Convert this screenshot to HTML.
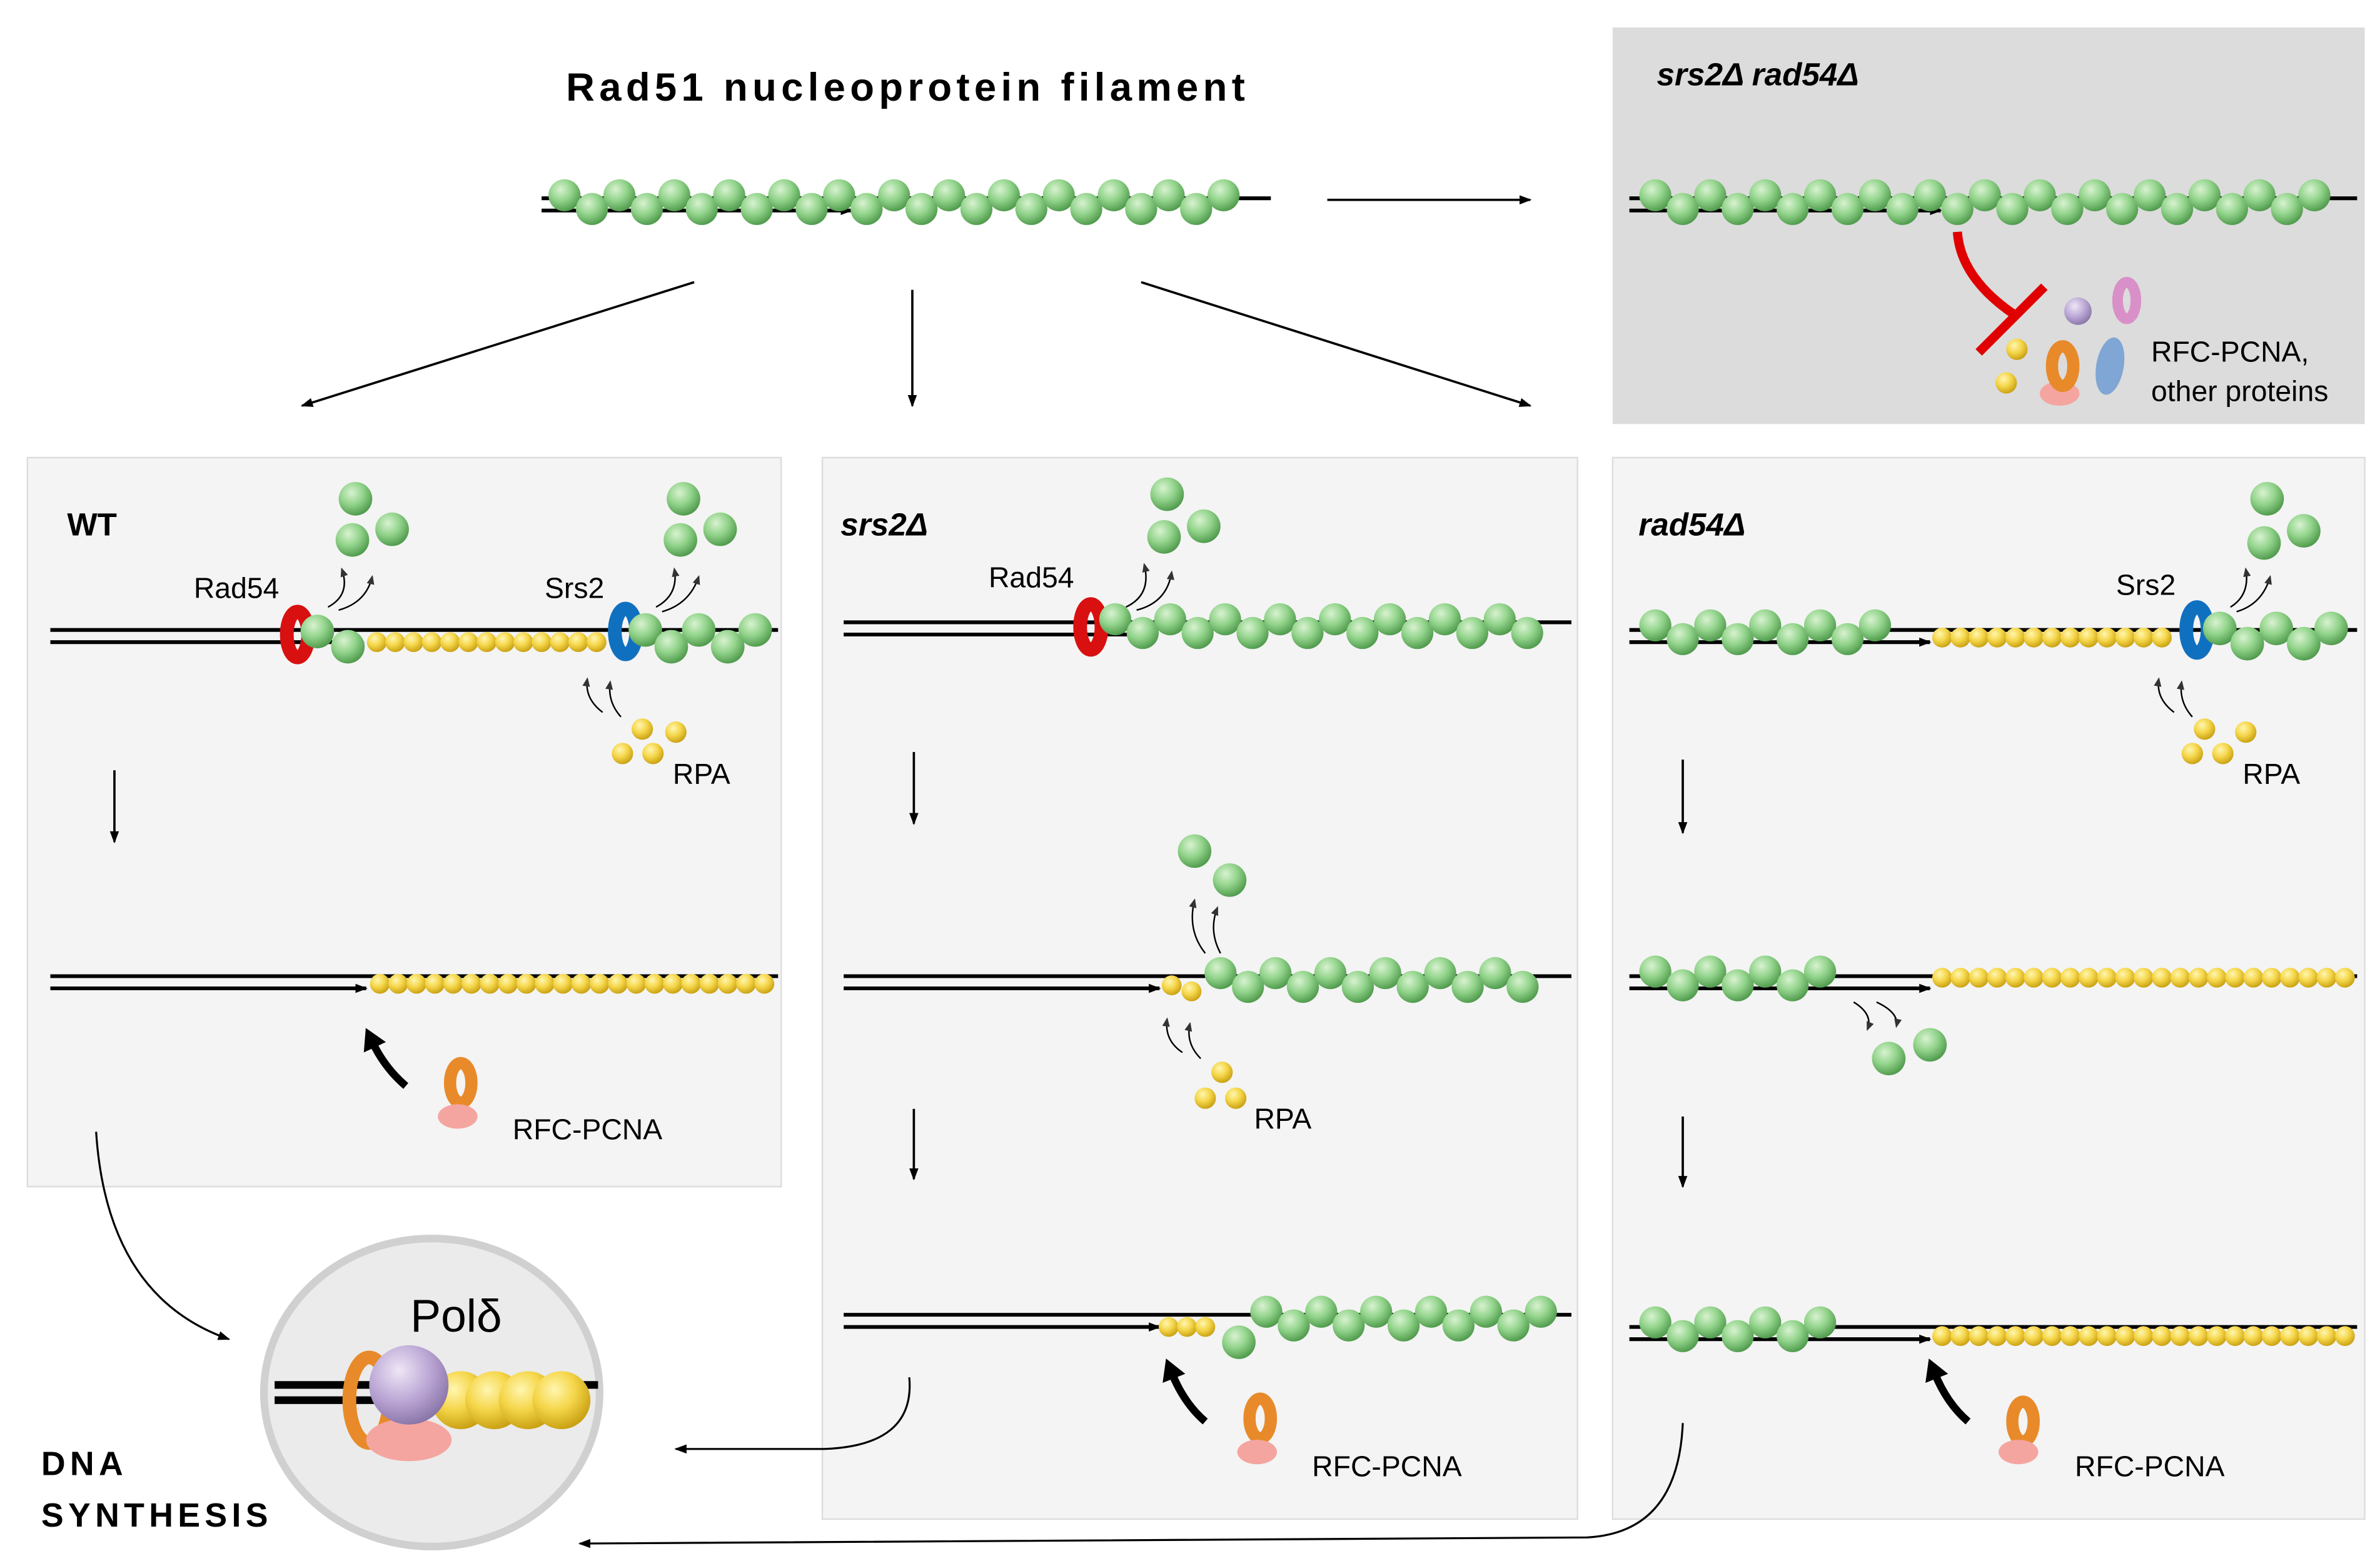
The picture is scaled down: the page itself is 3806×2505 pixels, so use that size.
<!DOCTYPE html>
<html><head><meta charset="utf-8"><style>
html,body{margin:0;padding:0;background:#fff}
svg{display:block}
text{font-family:"Liberation Sans",sans-serif}
</style></head><body>
<svg id="s" width="3806" height="2505" viewBox="0 0 1560 1026.7" xmlns="http://www.w3.org/2000/svg">
<defs>
<radialGradient id="g" cx="0.38" cy="0.32" r="0.7"><stop offset="0" stop-color="#d8f2d0"/><stop offset="0.5" stop-color="#93d48c"/><stop offset="1" stop-color="#4f9a4c"/></radialGradient>
<radialGradient id="y" cx="0.38" cy="0.32" r="0.7"><stop offset="0" stop-color="#fff6b0"/><stop offset="0.5" stop-color="#f5d64a"/><stop offset="1" stop-color="#c9a012"/></radialGradient>
<radialGradient id="p" cx="0.38" cy="0.32" r="0.7"><stop offset="0" stop-color="#efe6f7"/><stop offset="0.6" stop-color="#b7a2d2"/><stop offset="1" stop-color="#8a76a8"/></radialGradient>
<marker id="a" markerWidth="8" markerHeight="8" refX="7" refY="4" orient="auto" markerUnits="userSpaceOnUse"><path d="M0,1 L8,4 L0,7z" fill="#000"/></marker>
<marker id="as" markerWidth="6" markerHeight="6" refX="5" refY="3" orient="auto" markerUnits="userSpaceOnUse"><path d="M0,0.5 L6,3 L0,5.5z" fill="#333"/></marker>
<marker id="ab" markerWidth="16" markerHeight="16" refX="4" refY="8" orient="auto" markerUnits="userSpaceOnUse"><path d="M0,0 L14,8 L0,16z" fill="#000"/></marker>
</defs>
<rect x="1057" y="18" width="493" height="260" fill="#dcdcdc"/>
<rect x="18" y="300" width="494" height="478" fill="#f4f4f4" stroke="#ddd"/>
<rect x="539" y="300" width="495" height="696" fill="#f4f4f4" stroke="#ddd"/>
<rect x="1057" y="300" width="493" height="696" fill="#f4f4f4" stroke="#ddd"/>
<text x="595" y="66" text-anchor="middle" font-size="26" font-weight="bold" letter-spacing="3">Rad51 nucleoprotein filament</text>
<text x="1086" y="56" font-size="21" font-weight="bold" font-style="italic">srs2Δ rad54Δ</text>
<text x="44" y="351" font-size="21" font-weight="bold">WT</text>
<text x="551" y="351" font-size="21" font-weight="bold" font-style="italic">srs2Δ</text>
<text x="1074" y="351" font-size="21" font-weight="bold" font-style="italic">rad54Δ</text>
<g font-size="19">
<text x="1410" y="237">RFC-PCNA,</text><text x="1410" y="263">other proteins</text>
<text x="127" y="392">Rad54</text><text x="357" y="392">Srs2</text><text x="441" y="514">RPA</text>
<text x="336" y="747">RFC-PCNA</text>
<text x="648" y="385">Rad54</text><text x="822" y="740">RPA</text><text x="860" y="968">RFC-PCNA</text>
<text x="1387" y="390">Srs2</text><text x="1470" y="514">RPA</text><text x="1360" y="968">RFC-PCNA</text>
</g>
<text x="27" y="967" font-size="22" font-weight="bold" letter-spacing="3">DNA</text>
<text x="27" y="1001" font-size="22" font-weight="bold" letter-spacing="3">SYNTHESIS</text>
<g id="L" stroke="#000" fill="none" stroke-width="1.5"></g>
<g id="B"></g>
</svg>
<script>
var NS="http://www.w3.org/2000/svg",L=document.getElementById('L'),B=document.getElementById('B');
function el(p,t,a){var e=document.createElementNS(NS,t);for(var k in a)e.setAttribute(k,a[k]);p.appendChild(e);return e;}
function line(x1,y1,x2,y2,w,m){el(B,'line',{x1:x1,y1:y1,x2:x2,y2:y2,stroke:'#000','stroke-width':w||2.5,'marker-end':m?'url(#'+m+')':''});}
function ball(x,y,r,f){el(B,'circle',{cx:x,cy:y,r:r||11,fill:'url(#'+(f||'g')+')'});}
function path(d,w,m,c){el(B,'path',{d:d,fill:'none',stroke:c||'#000','stroke-width':w||1.5,'marker-end':m?'url(#'+m+')':''});}
function gfil(x1,x2,y){var i=0;for(var x=x1;x<=x2;x+=18,i++)ball(x,y+(i%2?6:-3),10.5);}
function yfil(x1,x2,y){for(var x=x1;x<=x2;x+=12)ball(x,y,6.5,'y');}
function ring(x,y,c,rx,ry,w){el(B,'ellipse',{cx:x,cy:y,rx:rx||7,ry:ry||13,fill:'none',stroke:c,'stroke-width':w||8});}
// arrows from top
line(870,131,1003,131,1.5,'a');line(455,185,198,266,1.5,'a');line(598,190,598,266,1.5,'a');line(748,185,1003,266,1.5,'a');
// top filament
line(355,130,833,130,2.5);line(355,138,558,138,2.5,'a');gfil(370,815,131);
// box filament
line(1068,130,1545,130,2.5);line(1068,138,1272,138,2.5,'a');gfil(1085,1530,131);
path('M1283,152 Q1285,182 1320,206',6,null,'#e00000');path('M1297,231 L1340,188',6,null,'#e00000');
ball(1362,204,9,'p');ring(1394,197,'#d990c8',6,12,7);ball(1322,229,7,'y');ball(1315,251,7,'y');
el(B,'ellipse',{cx:1350,cy:258,rx:13,ry:8,fill:'#f5a5a0'});ring(1352,240,'#e88a2a',7,13);
el(B,'ellipse',{cx:1383,cy:240,rx:9,ry:19,fill:'#7fa6d4',transform:'rotate(10 1383 240)'});
// WT
line(33,413,510,413,2.5);line(33,421,238,421,2.5,'a');
yfil(247,392,421);ring(195,416,'#d81010',7,15,9);ball(208,414);ball(228,424);
ring(410,414,'#1070c0',7,15,9);[423,440,458,477,495].forEach(function(x,i){ball(x,i%2?424:413);});
ball(233,327);ball(231,354);ball(257,347);ball(448,327);ball(446,354);ball(472,347);
path('M215,398 Q230,390 224,373',1,'as');path('M222,400 Q240,395 244,378',1,'as');
path('M430,398 Q445,390 442,373',1,'as');path('M434,401 Q452,396 458,378',1,'as');
path('M395,467 Q383,458 385,445',1,'as');path('M407,470 Q398,460 400,447',1,'as');
ball(421,478,7,'y');ball(443,480,7,'y');ball(408,494,7,'y');ball(428,494,7,'y');
line(75,505,75,552,1.5,'a');
line(33,640,510,640,2.5);line(33,648,240,648,2.5,'a');yfil(249,505,645);
path('M266,712 Q252,700 244,683',5,'ab');ring(302,710,'#e88a2a',7,13);el(B,'ellipse',{cx:300,cy:732,rx:13,ry:8,fill:'#f5a5a0'});
path('M63,742 Q70,850 150,878',1.3,'a');
// pol delta
el(B,'ellipse',{cx:283,cy:913,rx:110,ry:101,fill:'#ebebeb',stroke:'#d0d0d0','stroke-width':5});
line(180,908,392,908,5);line(180,918,250,918,5);
[302,324,346,368].forEach(function(x){ball(x,918,19,'y');});
ring(242,918,'#e88a2a',13,28,9);el(B,'ellipse',{cx:268,cy:944,rx:28,ry:14,fill:'#f5a5a0'});ball(268,908,26,'p');
el(B,'text',{x:269,y:873,'font-size':30}).textContent='Polδ';
// srs2
line(553,408,1030,408,2.5);line(553,416,755,416,2.5,'a');ring(715,411,'#d81010',7,15,9);gfil(731,1015,409);
ball(765,324);ball(763,352);ball(789,345);
path('M738,398 Q755,390 750,370',1,'as');path('M745,400 Q765,395 768,375',1,'as');
line(599,493,599,540,1.5,'a');
line(553,640,1030,640,2.5);line(553,648,760,648,2.5,'a');ball(768,646,6.5,'y');ball(781,650,6.5,'y');gfil(800,1015,641);
ball(783,558);ball(806,577);path('M790,625 Q778,610 783,590',1,'as');path('M800,625 Q792,610 798,595',1,'as');
path('M775,690 Q763,682 765,668',1,'as');path('M787,694 Q777,684 780,671',1,'as');
ball(801,703,7,'y');ball(790,720,7,'y');ball(810,720,7,'y');
line(599,727,599,773,1.5,'a');
line(553,862,1030,862,2.5);line(553,870,760,870,2.5,'a');yfil(766,796,870);ball(812,880);gfil(830,1015,863);
path('M790,932 Q776,920 768,900',5,'ab');ring(826,930,'#e88a2a',7,13);el(B,'ellipse',{cx:824,cy:952,rx:13,ry:8,fill:'#f5a5a0'});
path('M596,903 Q600,948 540,950 L443,950',1.3,'a');
// rad54
line(1068,413,1545,413,2.5);line(1068,421,1265,421,2.5,'a');gfil(1085,1245,413);yfil(1273,1420,418);
ring(1440,413,'#1070c0',7,15,9);[1455,1473,1492,1510,1528].forEach(function(x,i){ball(x,i%2?422:412);});
ball(1486,327);ball(1484,356);ball(1510,348);
path('M1462,398 Q1475,390 1472,373',1,'as');path('M1466,401 Q1483,396 1488,378',1,'as');
path('M1425,467 Q1413,458 1415,445',1,'as');path('M1437,470 Q1428,460 1430,447',1,'as');
ball(1445,478,7,'y');ball(1472,480,7,'y');ball(1437,494,7,'y');ball(1457,494,7,'y');
line(1103,498,1103,546,1.5,'a');
line(1068,640,1545,640,2.5);line(1068,648,1265,648,2.5,'a');gfil(1085,1210,640);yfil(1273,1543,641);
path('M1215,657 Q1228,665 1224,675',1,'as');path('M1230,657 Q1245,664 1243,673',1,'as');ball(1238,694);ball(1265,685);
line(1103,732,1103,778,1.5,'a');
line(1068,870,1545,870,2.5);line(1068,878,1265,878,2.5,'a');gfil(1085,1210,870);yfil(1273,1543,876);
path('M1290,932 Q1276,920 1268,900',5,'ab');ring(1326,932,'#e88a2a',7,13);el(B,'ellipse',{cx:1323,cy:952,rx:13,ry:8,fill:'#f5a5a0'});
path('M1103,933 Q1100,1005 1040,1008 L380,1012',1.3,'a');
</script>
</body></html>
